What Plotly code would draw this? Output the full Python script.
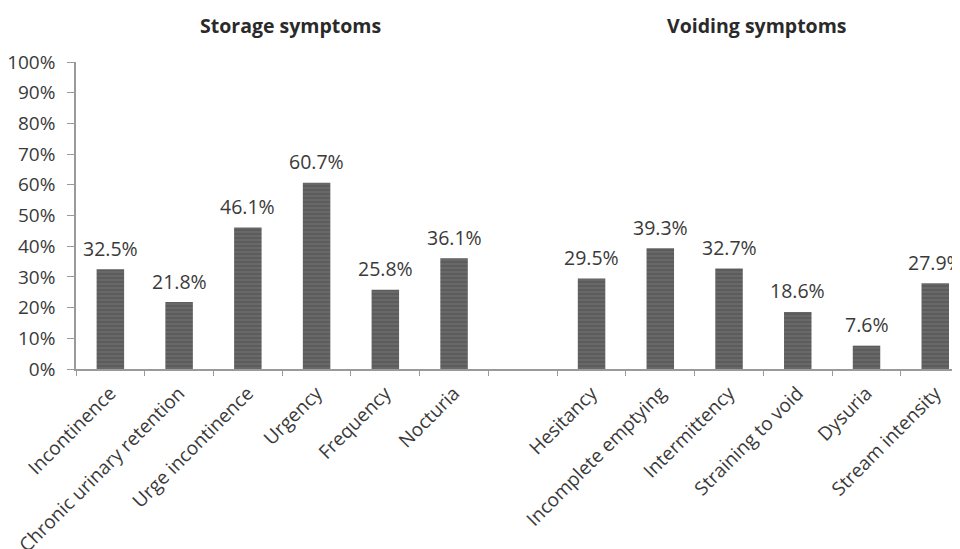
import plotly.graph_objects as go

categories = ["Incontinence", "Chronic urinary retention", "Urge incontinence", "Urgency",
              "Frequency", "Nocturia", " ",
              "Hesitancy", "Incomplete emptying", "Intermittency", "Straining to void",
              "Dysuria", "Stream intensity"]
values = [32.5, 21.8, 46.1, 60.7, 25.8, 36.1, None,
          29.5, 39.3, 32.7, 18.6, 7.6, 27.9]
labels = [f"{v:.1f}%" if v is not None else "" for v in values]
group_titles = ["Storage symptoms", "Voiding symptoms"]
y_ticks = [0, 10, 20, 30, 40, 50, 60, 70, 80, 90, 100]
y_ticktext = [f"{t}%" for t in y_ticks]

FONT = "Open Sans"
TXT = "#3a3a3a"

fig = go.Figure()
fig.add_trace(go.Bar(
    x=categories, y=values,
    marker=dict(color="#5c5c5c", line=dict(width=0),
                pattern=dict(shape="-", fgcolor="#8c8c8c", size=4, solidity=0.25)),
    width=0.4,
))

annotations = [
    dict(text=f"<b>{group_titles[0]}</b>", xref="paper", yref="paper", x=0.243, y=1.0,
         xanchor="center", yanchor="middle", yshift=37, showarrow=False,
         font=dict(family=FONT, size=19.5, color="#2a2a2a")),
    dict(text=f"<b>{group_titles[1]}</b>", xref="paper", yref="paper", x=0.770, y=1.0,
         xanchor="center", yanchor="middle", yshift=37, showarrow=False,
         font=dict(family=FONT, size=19.5, color="#2a2a2a")),
]
for c, v, t in zip(categories, values, labels):
    if v is None:
        continue
    annotations.append(dict(text=t, x=c, y=v, xref="x", yref="y", showarrow=False,
                            xanchor="center", yanchor="middle", yshift=21,
                            font=dict(family=FONT, size=19.5, color=TXT)))

fig.update_layout(
    width=952, height=541,
    margin=dict(l=68, r=0, t=54, b=180, autoexpand=False),
    paper_bgcolor="white", plot_bgcolor="white",
    showlegend=False,
    font=dict(family=FONT, size=18, color=TXT),
    annotations=annotations,
)
fig.update_xaxes(
    type="category", range=[-0.5, 12.36], tickangle=-45, tickson="boundaries",
    ticks="outside", ticklen=5, tickcolor="#9a9a9a",
    showline=True, linecolor="#9a9a9a", linewidth=1.5,
    showgrid=False, automargin=False, ticklabelstandoff=4,
    tickfont=dict(family=FONT, size=19, color=TXT),
)
fig.update_yaxes(
    range=[0, 100], tickmode="array", tickvals=y_ticks, ticktext=y_ticktext,
    ticks="outside", ticklen=7, tickcolor="#9a9a9a",
    showline=True, linecolor="#9a9a9a", linewidth=1.5,
    showgrid=False, zeroline=False, automargin=False, ticklabelstandoff=8,
    tickfont=dict(family=FONT, size=19, color=TXT),
)

fig.write_html("out.html")
